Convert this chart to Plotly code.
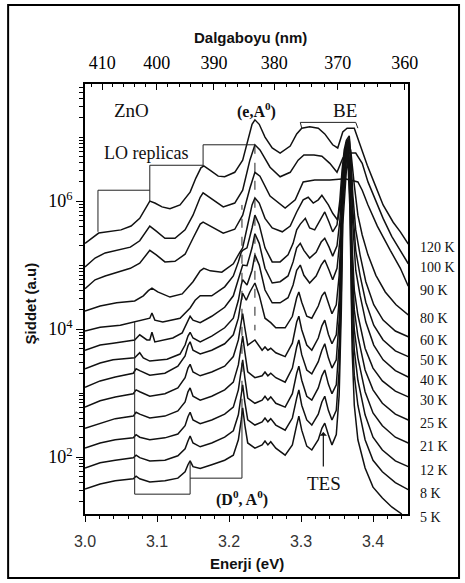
import plotly.graph_objects as go

# ---------------- data (energy in eV, intensity as log10 of a.u.) ----------------
TEMP_LABELS = ["120 K", "100 K", "90 K", "80 K", "60 K", "50 K", "40 K",
               "30 K", "25 K", "21 K", "12 K", "8 K", "5 K"]

E_120K = [3.000,3.019,3.050,3.064,3.076,3.085,3.090,3.097,3.107,3.118,
          3.132,3.146,3.154,3.161,3.165,3.174,3.185,3.194,3.208,3.219,
          3.226,3.232,3.236,3.242,3.250,3.260,3.271,3.285,3.294,3.301,
          3.312,3.324,3.333,3.344,3.351,3.358,3.364,3.374,3.382,3.392,
          3.403,3.414,3.428,3.438,3.449]
I_120K = [5.34,5.50,5.55,5.61,5.73,5.89,6.00,5.97,5.91,5.88,
          5.94,6.14,6.36,6.52,6.55,6.48,6.39,6.38,6.45,6.64,
          6.95,7.20,7.27,7.20,7.00,6.83,6.75,6.86,7.05,7.14,
          7.16,7.14,7.05,6.88,6.83,7.08,7.14,7.14,6.88,6.56,
          6.25,5.94,5.67,5.52,5.33]

E_100K = [3.000,3.014,3.028,3.044,3.063,3.076,3.085,3.090,3.099,3.111,
          3.125,3.139,3.150,3.160,3.164,3.174,3.192,3.208,3.219,3.229,
          3.236,3.243,3.257,3.271,3.285,3.296,3.304,3.318,3.329,3.340,
          3.350,3.358,3.364,3.376,3.385,3.393,3.403,3.414,3.426,3.438,
          3.449]
I_100K = [4.97,5.11,5.19,5.23,5.28,5.38,5.52,5.61,5.53,5.42,
          5.42,5.55,5.78,6.06,6.13,6.05,5.91,5.97,6.17,6.64,
          6.88,6.80,6.53,6.38,6.45,6.64,6.72,6.72,6.70,6.59,
          6.45,6.67,6.75,6.75,6.59,6.30,6.02,5.73,5.45,5.23,
          5.02]

E_90K = [3.000,3.014,3.028,3.044,3.063,3.076,3.085,3.090,3.099,3.111,
         3.125,3.139,3.150,3.160,3.164,3.174,3.192,3.208,3.219,3.229,
         3.236,3.243,3.257,3.278,3.292,3.303,3.319,3.340,3.361,3.379,
         3.385,3.393,3.406,3.424,3.438,3.449]
I_90K = [4.63,4.77,4.83,4.89,4.95,5.03,5.16,5.23,5.16,5.05,
         5.06,5.17,5.42,5.64,5.67,5.61,5.50,5.56,5.78,6.20,
         6.45,6.39,6.08,5.89,6.02,6.30,6.33,6.33,6.35,6.30,
         6.17,5.94,5.61,5.23,4.95,4.67]

E_80K = [3.000,3.021,3.044,3.069,3.081,3.088,3.093,3.101,3.118,3.135,
         3.150,3.160,3.165,3.174,3.190,3.206,3.215,3.219,3.226,3.232,
         3.236,3.242,3.250,3.260,3.274,3.285,3.294,3.303,3.310,3.317,
         3.324,3.329,3.338,3.344,3.351,3.356,3.358,3.361,3.365,3.369,
         3.374,3.379,3.385,3.393,3.404,3.417,3.432,3.449]
I_80K = [4.28,4.36,4.41,4.44,4.52,4.60,4.64,4.58,4.50,4.55,
         4.74,4.91,4.95,4.91,4.89,5.02,5.20,5.27,5.63,5.94,
         6.05,5.97,5.73,5.58,5.52,5.61,5.83,6.02,6.06,5.97,
         6.02,6.09,5.94,5.81,5.70,6.09,6.48,6.80,6.92,6.80,
         6.25,5.78,5.47,5.16,4.84,4.58,4.38,4.22]

E_60K = [3.000,3.021,3.049,3.069,3.090,3.093,3.097,3.108,3.132,3.146,
         3.153,3.160,3.167,3.176,3.194,3.206,3.213,3.217,3.219,3.225,
         3.232,3.236,3.242,3.250,3.260,3.271,3.282,3.289,3.294,3.299,
         3.306,3.312,3.319,3.326,3.333,3.339,3.344,3.350,3.354,3.357,
         3.360,3.363,3.367,3.369,3.372,3.376,3.382,3.390,3.401,3.414,
         3.431,3.449]
I_60K = [3.97,4.03,4.06,4.11,4.17,4.25,4.14,4.11,4.17,4.33,
         4.45,4.52,4.52,4.52,4.66,4.83,5.05,5.20,5.23,5.27,
         5.58,5.78,5.63,5.27,5.05,5.05,5.16,5.34,5.55,5.64,
         5.73,5.58,5.55,5.70,5.83,5.67,5.52,5.63,6.02,6.48,
         6.80,6.95,7.02,6.72,6.09,5.55,5.16,4.74,4.38,4.14,
         3.97,3.88]

E_50K = [3.000,3.021,3.039,3.069,3.076,3.086,3.090,3.093,3.097,3.122,
         3.135,3.142,3.146,3.150,3.160,3.176,3.194,3.206,3.213,3.217,
         3.219,3.225,3.232,3.236,3.242,3.250,3.260,3.271,3.282,3.289,
         3.294,3.299,3.304,3.312,3.321,3.328,3.333,3.339,3.344,3.350,
         3.354,3.357,3.360,3.363,3.367,3.369,3.372,3.376,3.382,3.390,
         3.401,3.414,3.431,3.449]
I_50K = [3.67,3.75,3.78,3.83,3.91,3.83,3.83,3.95,3.80,3.86,
         3.94,4.10,4.20,4.14,4.10,4.20,4.34,4.52,4.77,4.95,
         5.00,4.99,5.27,5.49,5.34,4.95,4.72,4.74,4.83,5.05,
         5.27,5.34,5.23,5.11,5.20,5.36,5.42,5.28,5.14,5.30,
         5.70,6.25,6.67,6.92,6.98,6.64,5.86,5.23,4.84,4.42,
         4.06,3.83,3.66,3.57]

E_40K = [3.000,3.021,3.039,3.069,3.076,3.081,3.090,3.114,3.132,3.139,
         3.143,3.146,3.150,3.160,3.176,3.194,3.206,3.213,3.217,3.219,
         3.225,3.232,3.236,3.242,3.250,3.260,3.271,3.282,3.289,3.294,
         3.299,3.304,3.312,3.321,3.328,3.333,3.339,3.344,3.350,3.354,
         3.357,3.360,3.363,3.367,3.369,3.372,3.376,3.382,3.390,3.401,
         3.414,3.431,3.449]
I_40K = [3.38,3.47,3.52,3.55,3.63,3.55,3.50,3.53,3.61,3.75,
         3.89,3.95,3.86,3.80,3.89,4.02,4.17,4.45,4.69,4.77,
         4.69,4.92,5.16,5.00,4.61,4.41,4.41,4.49,4.69,4.92,
         5.00,4.84,4.72,4.83,5.00,5.08,4.92,4.77,4.95,5.39,
         6.02,6.56,6.88,6.95,6.56,5.63,4.92,4.53,4.11,3.75,
         3.52,3.35,3.25]

E_30K = [3.000,3.021,3.042,3.067,3.071,3.076,3.090,3.111,3.129,3.139,
         3.143,3.146,3.150,3.160,3.176,3.194,3.206,3.213,3.217,3.219,
         3.224,3.229,3.236,3.242,3.250,3.258,3.265,3.278,
         3.288,3.294,3.297,3.301,3.308,3.315,3.324,3.329,3.333,3.338,
         3.343,3.349,3.353,3.356,3.358,3.363,3.365,3.368,3.371,3.374,
         3.379,3.389,3.400,3.413,3.431,3.449]
I_30K = [3.09,3.19,3.25,3.31,3.38,3.35,3.28,3.31,3.42,3.58,
         3.74,3.80,3.67,3.61,3.67,3.77,3.91,4.17,4.45,4.56,
         4.45,4.58,4.72,4.53,4.17,4.10,4.02,4.02,
         4.20,4.49,4.58,4.42,4.20,4.17,4.36,4.52,4.58,4.39,
         4.24,4.38,4.84,5.63,6.41,6.86,6.95,6.48,5.31,4.61,
         4.22,3.70,3.39,3.19,3.03,2.94]

E_LOWT = [3.000,3.021,3.042,3.067,3.071,3.076,3.090,3.111,3.129,3.139,
          3.143,3.146,3.150,3.160,3.176,3.194,3.206,3.213,3.217,3.219,
          3.222,3.226,3.236,3.246,3.250,3.254,3.258,3.265,3.278,3.288,
          3.294,3.297,3.301,3.308,3.315,3.324,3.329,3.333,3.338,3.343,
          3.349,3.353,3.356,3.358,3.363,3.365,3.368,3.371,3.374,3.379,
          3.389,3.400,3.413,3.431,3.449]
I_25K = [2.78,2.88,2.94,2.99,3.05,3.02,2.95,2.99,3.08,3.24,
         3.39,3.45,3.33,3.27,3.33,3.42,3.57,3.83,4.11,4.24,
         4.02,3.75,3.83,3.67,3.72,3.67,3.70,3.63,3.57,3.78,
         4.11,4.20,3.99,3.75,3.67,3.86,4.05,4.14,3.92,3.77,
         3.91,4.45,5.39,6.25,6.80,6.92,6.41,5.08,4.30,3.89,
         3.36,3.05,2.84,2.67,2.58]
I_21K = [2.45,2.53,2.60,2.64,2.70,2.67,2.61,2.64,2.72,2.86,
         3.02,3.08,2.95,2.89,2.95,3.05,3.17,3.44,3.75,3.89,
         3.64,3.33,3.24,3.27,3.33,3.27,3.31,3.24,3.17,3.39,
         3.72,3.83,3.60,3.36,3.30,3.49,3.67,3.77,3.55,3.39,
         3.52,4.14,5.23,6.17,6.80,6.89,6.33,4.77,3.99,3.55,
         3.02,2.69,2.49,2.31,2.22]
I_12K = [2.14,2.22,2.27,2.30,2.35,2.31,2.27,2.30,2.36,2.49,
         2.63,2.70,2.58,2.52,2.58,2.67,2.78,3.05,3.36,3.52,
         3.24,2.92,2.84,2.89,2.95,2.89,2.94,2.84,2.78,2.99,
         3.31,3.42,3.20,2.95,2.89,3.08,3.27,3.36,3.14,2.99,
         3.13,3.75,4.92,6.02,6.72,6.86,6.17,4.45,3.67,3.20,
         2.66,2.31,2.11,1.94,1.85]
I_8K = [1.83,1.91,1.95,1.99,2.03,1.99,1.94,1.95,2.02,2.13,
        2.25,2.33,2.22,2.16,2.22,2.31,2.41,2.66,2.97,3.13,
        2.86,2.58,2.50,2.55,2.61,2.55,2.60,2.50,2.42,2.61,
        2.92,3.05,2.81,2.58,2.50,2.67,2.86,2.95,2.73,2.58,
        2.73,3.36,4.61,5.86,6.64,6.80,6.02,3.99,3.28,2.81,
        2.27,1.95,1.77,1.60,1.49]

E_5K = [3.000,3.021,3.042,3.067,3.071,3.076,3.090,3.111,3.129,3.139,
        3.143,3.146,3.150,3.160,3.176,3.194,3.206,3.213,3.217,3.219,
        3.222,3.226,3.236,3.246,3.250,3.254,3.258,3.265,3.278,3.288,
        3.294,3.297,3.301,3.308,3.315,3.324,3.329,3.333,3.338,3.343,
        3.349,3.353,3.356,3.358,3.363,3.365,3.368,3.371,3.374,3.379,
        3.389,3.400,3.413,3.426,3.440]
I_5K = [1.50,1.58,1.63,1.66,1.70,1.66,1.61,1.63,1.67,1.77,
        1.88,1.94,1.85,1.82,1.88,1.95,2.03,2.27,2.58,2.77,
        2.50,2.22,2.14,2.19,2.25,2.19,2.24,2.14,2.03,2.19,
        2.50,2.64,2.42,2.17,2.11,2.27,2.45,2.53,2.35,2.19,
        2.35,2.97,4.30,5.63,6.48,6.67,5.86,3.67,2.81,2.27,
        1.83,1.53,1.36,1.22,1.11]

CURVES = [(E_120K, I_120K), (E_100K, I_100K), (E_90K, I_90K), (E_80K, I_80K),
          (E_60K, I_60K), (E_50K, I_50K), (E_40K, I_40K), (E_30K, I_30K),
          (E_LOWT, I_25K), (E_LOWT, I_21K), (E_LOWT, I_12K), (E_LOWT, I_8K),
          (E_5K, I_5K)]

# annotation markers (energies in eV, levels as log10 intensity)
LO_BRACKET_E = [3.018, 3.018, 3.090, None, 3.090, 3.090, 3.164, None, 3.164, 3.164, 3.236]
LO_BRACKET_L = [5.52, 6.17, 6.17, None, 6.00, 6.56, 6.56, None, 6.55, 6.88, 6.88]
EA_DASH_E = [3.236, 3.236]
EA_DASH_L = [6.88, 3.98]
DA_BRACKET_E = [3.069, 3.069, 3.146, 3.146, None, 3.146, 3.218, 3.218]
DA_BRACKET_L = [4.11, 1.42, 1.42, 1.94, None, 1.67, 1.67, 2.77]
DA_DASH_E = [3.218, 3.218]
DA_DASH_L = [2.77, 5.94]
BE_BRACKET_E = [3.301, 3.299, 3.376, 3.379]
BE_BRACKET_L = [7.14, 7.23, 7.23, 7.14]

WAVELENGTHS = [410, 400, 390, 380, 370, 360]
X_RANGE = [3.0, 3.4486]
Y_RANGE = [1.11, 7.83]

HC = 1239.84  # eV*nm


def lin(vals):
    return [None if v is None else 10 ** v for v in vals]


fig = go.Figure()
for E, L in CURVES:
    fig.add_trace(go.Scatter(x=E, y=lin(L), mode="lines",
                             line=dict(color="#111111", width=1.5),
                             hoverinfo="skip", showlegend=False))

for E, L, dash in [(LO_BRACKET_E, LO_BRACKET_L, "solid"),
                   (EA_DASH_E, EA_DASH_L, "dash"),
                   (DA_BRACKET_E, DA_BRACKET_L, "solid"),
                   (DA_DASH_E, DA_DASH_L, "dash"),
                   (BE_BRACKET_E, BE_BRACKET_L, "solid")]:
    fig.add_trace(go.Scatter(x=E, y=lin(L), mode="lines", connectgaps=False,
                             line=dict(color="#222222", width=1.0, dash=dash),
                             hoverinfo="skip", showlegend=False))

# invisible trace to activate the top (wavelength) axis
fig.add_trace(go.Scatter(x=[X_RANGE[0]], y=[100], xaxis="x2", mode="markers",
                         marker=dict(opacity=0), hoverinfo="skip", showlegend=False))

serif = "Liberation Serif, Times New Roman, serif"
sans = "Liberation Sans, Arial, sans-serif"


def log_to_paper(v):
    return (v - Y_RANGE[0]) / (Y_RANGE[1] - Y_RANGE[0])


annotations = []
# temperature labels at the right end of each curve
for lab, (E, L) in zip(TEMP_LABELS, CURVES):
    annotations.append(dict(x=1.03, xref="paper", y=log_to_paper(L[-1] - 0.06), yref="paper",
                            text=lab, showarrow=False, xanchor="left", yanchor="middle",
                            font=dict(family=serif, size=14, color="#111")))

for txt, x, y, size, bold in [("ZnO", 3.065, 7.42, 19, False),
                              ("LO replicas", 3.085, 6.75, 18, False),
                              ("(e,A<sup>0</sup>)", 3.2375, 7.42, 16, True),
                              ("BE", 3.361, 7.42, 19, False),
                              ("TES", 3.332, 1.58, 19, False),
                              ("(D<sup>0</sup>, A<sup>0</sup>)", 3.218, 1.36, 16, True)]:
    annotations.append(dict(x=x, y=y, xref="x", yref="y", text=txt, showarrow=False,
                            xanchor="center", yanchor="middle",
                            font=dict(family=serif, size=size, color="#111",
                                      weight="bold" if bold else "normal")))

# TES arrow
annotations.append(dict(x=3.331, y=2.39, xref="x", yref="y", text="", showarrow=True,
                        ax=0, ay=36, arrowhead=1, arrowsize=1, arrowwidth=1.2,
                        arrowcolor="#111", standoff=0))

# axis titles
annotations.append(dict(x=-0.17, y=0.49, xref="paper", yref="paper", text="Şiddet (a.u)",
                        textangle=-90, showarrow=False, xanchor="center", yanchor="middle",
                        font=dict(family=sans, size=15, color="#111", weight="bold")))
annotations.append(dict(x=0.5, y=-0.114, xref="paper", yref="paper", text="Enerji (eV)",
                        showarrow=False, xanchor="center", yanchor="middle",
                        font=dict(family=sans, size=15, color="#111", weight="bold")))
annotations.append(dict(x=0.511, y=1.107, xref="paper", yref="paper", text="Dalgaboyu (nm)",
                        showarrow=False, xanchor="center", yanchor="middle",
                        font=dict(family=sans, size=15, color="#111", weight="bold")))

minor_wl = [w for w in range(360, 414, 2) if w % 10 != 0]

fig.update_layout(
    width=465, height=583,
    margin=dict(l=85, r=57, t=84, b=69),
    paper_bgcolor="white", plot_bgcolor="white",
    showlegend=False,
    annotations=annotations,
    shapes=[dict(type="rect", xref="paper", yref="paper",
                 x0=-0.238, x1=1.158, y0=-0.149, y1=1.184,
                 line=dict(color="black", width=2), fillcolor="rgba(0,0,0,0)")],
    xaxis=dict(range=X_RANGE, tick0=3.0, dtick=0.1, tickformat=".1f",
               ticks="outside", ticklen=6, tickwidth=1.2, tickcolor="black",
               minor=dict(tickmode="linear", tick0=3.0, dtick=0.02, ticks="outside",
                          ticklen=3, tickcolor="black"),
               showline=True, linecolor="black", linewidth=1.5,
               showgrid=False, zeroline=False, ticklabelstandoff=6,
               tickfont=dict(family=sans, size=16, color="#333")),
    xaxis2=dict(overlaying="x", side="top", range=X_RANGE, tickmode="array",
                tickvals=[HC / w for w in WAVELENGTHS],
                ticktext=[str(w) for w in WAVELENGTHS],
                ticks="inside", ticklen=6, tickwidth=1.2, tickcolor="black",
                minor=dict(tickmode="array", tickvals=[HC / w for w in minor_wl],
                           ticks="inside", ticklen=3, tickcolor="black"),
                showline=True, linecolor="black", linewidth=1.5,
                showgrid=False, zeroline=False, ticklabelstandoff=6,
                tickfont=dict(family=serif, size=18, color="black")),
    yaxis=dict(type="log", range=Y_RANGE, tickmode="array",
               tickvals=[10 ** k for k in (2, 4, 6)],
               ticktext=["10<sup>2</sup>", "10<sup>4</sup>", "10<sup>6</sup>"],
               ticks="outside", ticklen=7, tickwidth=1.2, tickcolor="black",
               minor=dict(tickmode="array",
                          tickvals=[m * 10 ** k for k in range(1, 8) for m in range(1, 10)
                                    if not (m == 1 and k in (2, 4, 6))],
                          ticks="outside", ticklen=4, tickcolor="black"),
               showline=True, mirror=True, linecolor="black", linewidth=1.5,
               showgrid=False, zeroline=False,
               tickfont=dict(family=serif, size=18, color="black")),
)

fig.write_html("out.html")
